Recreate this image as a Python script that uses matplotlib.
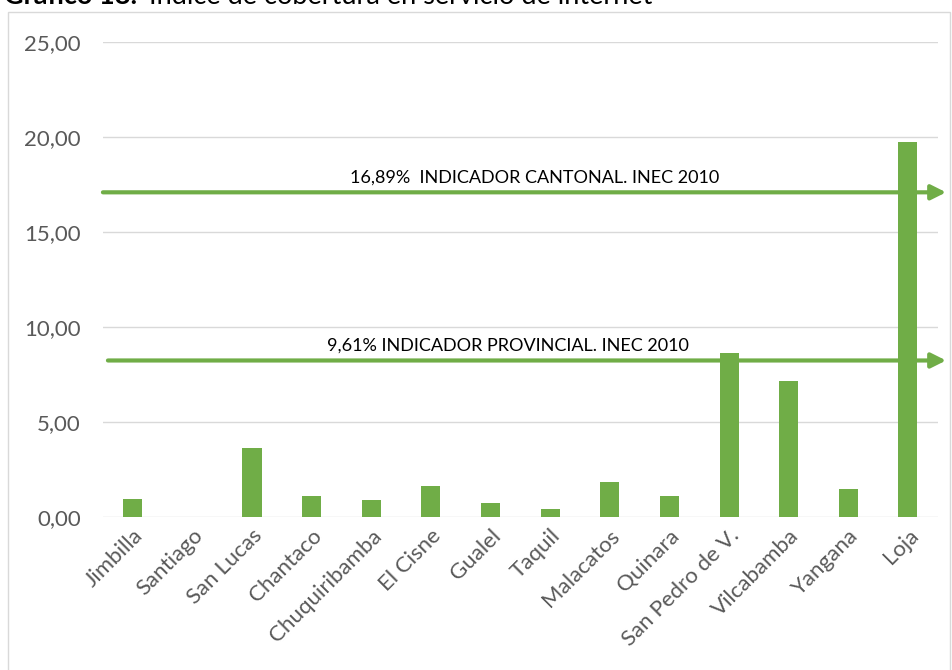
import matplotlib.pyplot as plt
from matplotlib.patches import Rectangle

# Data
cantones = ['Jimbilla', 'Santiago', 'San Lucas', 'Chantaco', 'Chuquiribamba',
            'El Cisne', 'Gualel', 'Taquil', 'Malacatos', 'Quinara',
            'San Pedro de V.', 'Vilcabamba', 'Yangana', 'Loja']
cobertura = [0.98, 0.0, 3.65, 1.10, 0.90, 1.67, 0.75, 0.42, 1.84, 1.10,
             8.63, 7.16, 1.51, 19.74]

# reference lines as drawn (label text carries the official value)
linea_cantonal = 17.1
linea_provincial = 8.25
texto_cantonal = '16,89%  INDICADOR CANTONAL. INEC 2010'
texto_provincial = '9,61% INDICADOR PROVINCIAL. INEC 2010'

yticks = [0, 5, 10, 15, 20, 25]

verde = '#70AD47'
gris = '#595959'
plt.rcParams['font.family'] = ['Lato', 'DejaVu Sans']

fig = plt.figure(figsize=(9.53, 6.70), dpi=100)
ax = fig.add_axes([0.108, 0.228, 0.876, 0.709])  # llx, lly, w, h

x = range(len(cantones))
ax.bar(x, cobertura, width=0.32, color=verde, zorder=3)

ax.set_xlim(-0.5, len(cantones) - 0.5)
ax.set_ylim(0, 25)
ax.set_yticks(yticks)
ax.set_yticklabels(['%d,00' % v for v in yticks], fontsize=16, color=gris)
ax.set_xticks(list(x))
ax.set_xticklabels(cantones, rotation=45, ha='right', rotation_mode='anchor',
                   fontsize=16, color=gris)
ax.tick_params(length=0)
ax.tick_params(axis='y', pad=16)
ax.tick_params(axis='x', pad=6)
ax.grid(axis='y', color='#D9D9D9', lw=1, zorder=0)
for s in ax.spines.values():
    s.set_visible(False)

# arrows for the reference indicators
for yv, x0 in ((linea_cantonal, 0.0), (linea_provincial, 0.006)):
    ax.annotate('', xy=(1.01, yv), xytext=(x0, yv),
                xycoords=('axes fraction', 'data'),
                arrowprops=dict(arrowstyle='-|>', color=verde, lw=3,
                                mutation_scale=22, shrinkA=0, shrinkB=0),
                annotation_clip=False, zorder=4)
ax.text(0.517, linea_cantonal + 0.35, texto_cantonal, transform=ax.get_yaxis_transform(),
        ha='center', va='bottom', fontsize=13, color='black')
ax.text(0.485, linea_provincial + 0.35, texto_provincial, transform=ax.get_yaxis_transform(),
        ha='center', va='bottom', fontsize=13, color='black')

# chart frame
fig.patches.append(Rectangle((8 / 953, -0.01), 942 / 953, 1.01 - 12 / 670,
                             transform=fig.transFigure, fill=False,
                             edgecolor='#D9D9D9', lw=1))

# title, cut off at the top of the picture
t1 = fig.text(0.004, 0.994, 'Gráfico 18:', fontsize=19.5, fontweight='bold',
              va='baseline', ha='left')
fig.canvas.draw()
bb = t1.get_window_extent()
fig.text(bb.x1 / fig.bbox.width + 0.012, 0.994,
         'Índice de cobertura en servicio de internet',
         fontsize=19.5, va='baseline', ha='left')

fig.savefig('out.png', dpi=100)
